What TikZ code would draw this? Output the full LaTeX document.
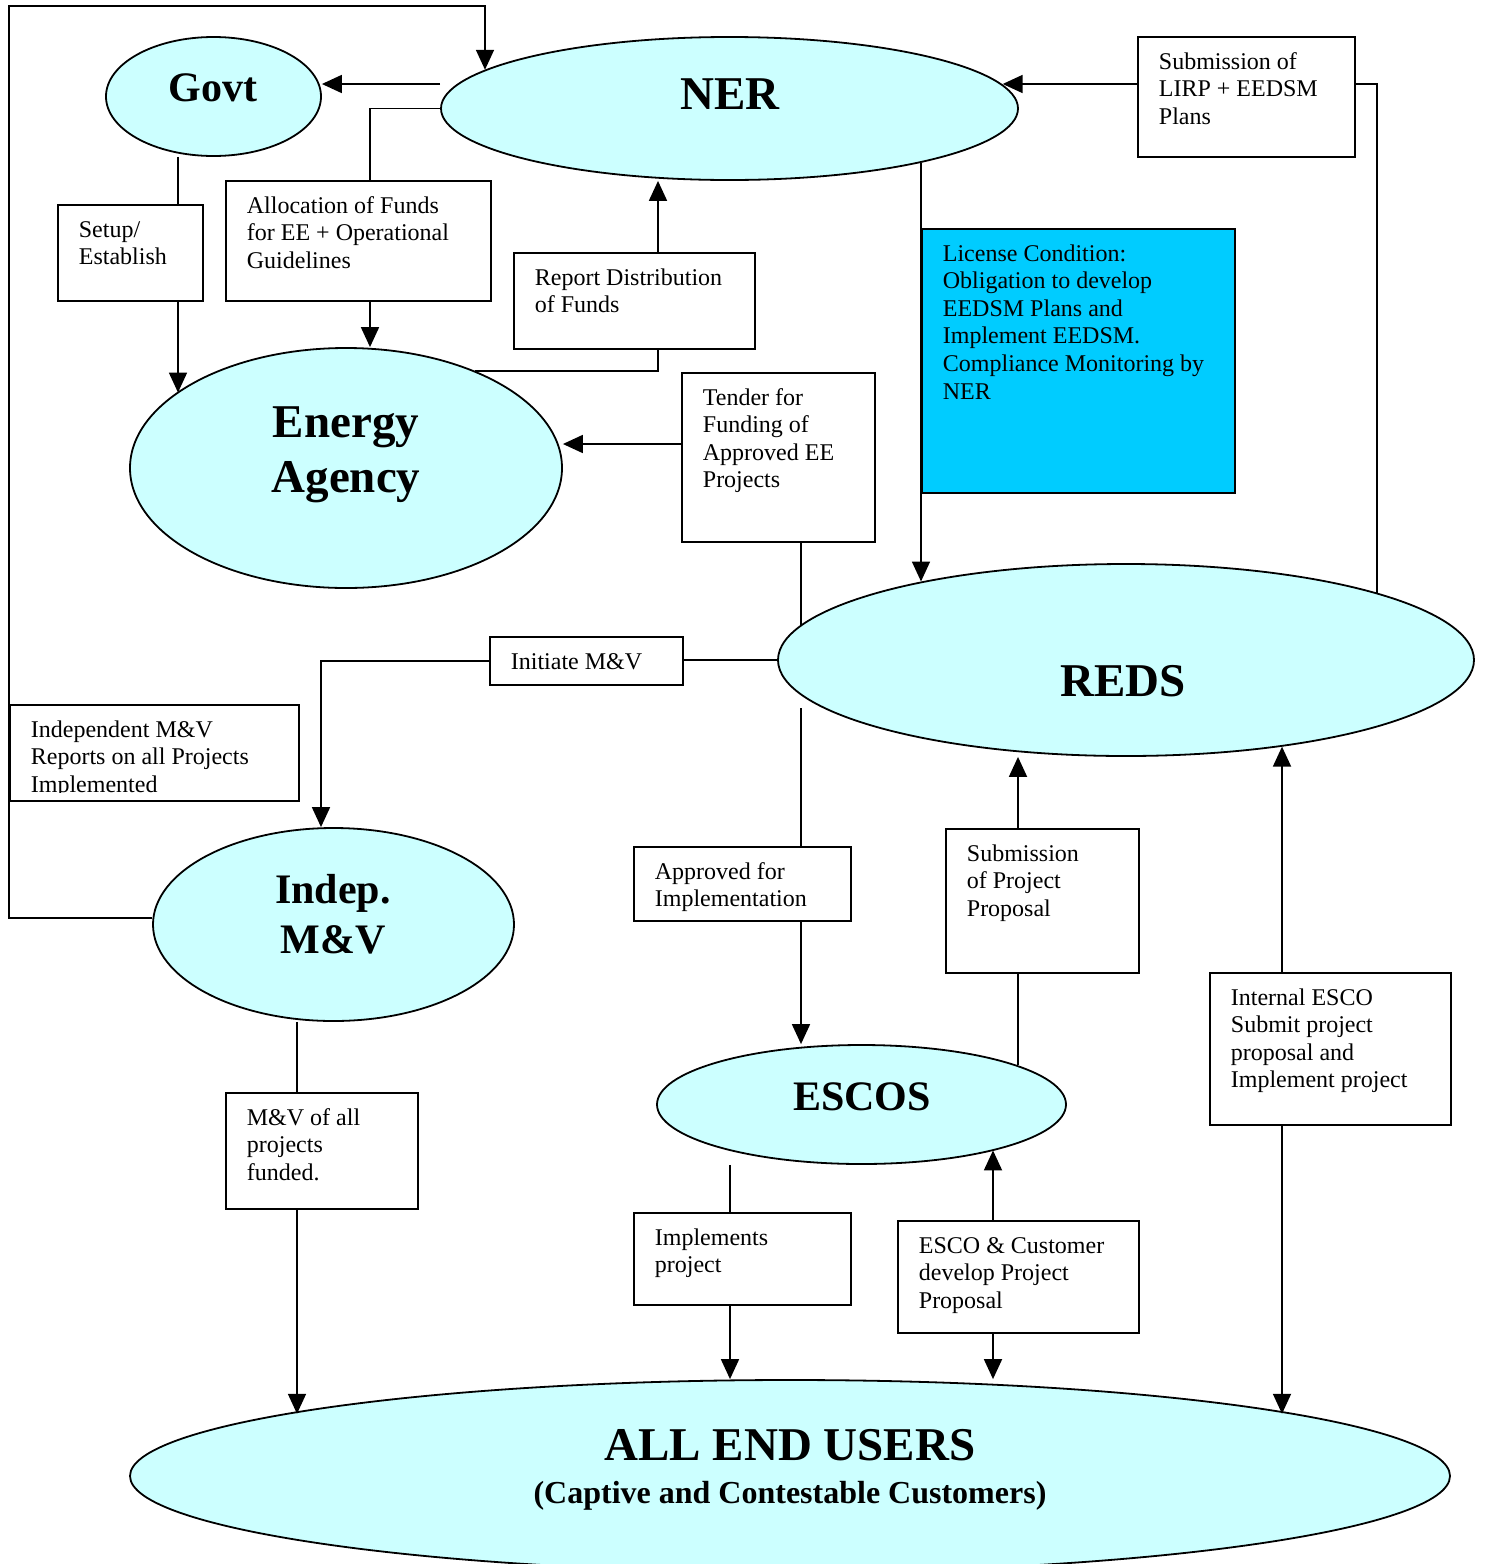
\documentclass[tikz,border=0pt]{standalone}
\usepackage{fontspec}
\setmainfont{Liberation Serif}
\usepackage{tikz}
\usetikzlibrary{arrows.meta,positioning,calc,shapes.geometric}
\usepackage{xcolor}
\definecolor{paleCyan}{HTML}{CCFFFF}
\definecolor{skyBox}{HTML}{00CCFF}
\newcommand{\rows}[1]{\begin{tabular}[t]{@{}l@{}}#1\end{tabular}}
\newcommand{\crows}[1]{\begin{tabular}[t]{@{}c@{}}#1\end{tabular}}

\begin{document}
\begin{tikzpicture}[x=1pt,y=-1pt,>={Triangle[length=20pt,width=18pt]},line width=1.8pt,
  blob/.style={draw,ellipse,fill=paleCyan,inner sep=0},
  card/.style={draw,rectangle,anchor=north west,inner sep=0},
  note/.style={anchor=base west,inner sep=0,font=\fontsize{24}{27.6}\selectfont},
  big/.style={anchor=base,inner sep=0,font=\bfseries\fontsize{47}{55}\selectfont},
  mid/.style={anchor=base,inner sep=0,font=\bfseries\fontsize{42}{50}\selectfont}]
  \useasboundingbox (0,0) rectangle (1486,1564);
  \clip (0,0) rectangle (1486,1564);

  % actors
  \node[blob,minimum width=215pt,minimum height=119pt] (govt) at (213.5,96.5) {};
  \node[blob,minimum width=577pt,minimum height=143pt] (ner) at (729.5,108.5) {};
  \node[blob,minimum width=432pt,minimum height=240pt] (ea) at (346,468) {};
  \node[blob,minimum width=696pt,minimum height=192pt] (reds) at (1126,660) {};
  \node[blob,minimum width=361pt,minimum height=193pt] (mv) at (333.5,924.5) {};
  \node[blob,minimum width=409pt,minimum height=119pt] (escos) at (861.5,1104.5) {};
  \node[blob,minimum width=1320pt,minimum height=192pt] (eu) at (790,1476) {};

  \node[mid] (govtTxt) at (213,101) {Govt};
  \node[big] (nerTxt) at (730,109) {NER};
  \node[big] (eaTxt) at (346,437) {\crows{Energy\\Agency}};
  \node[big] (redsTxt) at (1123,696) {REDS};
  \node[mid] (mvTxt) at (333,903) {\crows{Indep.\\M\&V}};
  \node[mid] (escosTxt) at (862,1110) {ESCOS};
  \node[big] (euTxt) at (790,1460) {ALL END USERS};
  \node[anchor=base,inner sep=0,font=\bfseries\fontsize{32}{38}\selectfont] (euSub) at (790,1503) {(Captive and Contestable Customers)};

  % flow boxes
  \node[card,minimum width=145pt,minimum height=96pt] (setup) at (57,204) {};
  \node[card,minimum width=265pt,minimum height=120pt] (alloc) at (225,180) {};
  \node[card,minimum width=241pt,minimum height=96pt] (report) at (513,252) {};
  \node[card,minimum width=193pt,minimum height=169pt] (tender) at (681,372) {};
  \node[card,minimum width=217pt,minimum height=120pt] (lirp) at (1137,36) {};
  \node[card,fill=skyBox,minimum width=313pt,minimum height=264pt] (licence) at (921,228) {};
  \node[card,minimum width=193pt,minimum height=48pt] (initmv) at (489,636) {};
  \node[card,minimum width=289pt,minimum height=96pt] (mvrep) at (9,704) {};
  \node[card,minimum width=217pt,minimum height=74pt] (approved) at (633,846) {};
  \node[card,minimum width=193pt,minimum height=144pt] (subprop) at (945,828) {};
  \node[card,minimum width=241pt,minimum height=152pt] (internal) at (1209,972) {};
  \node[card,minimum width=192pt,minimum height=116pt] (mvall) at (225,1092) {};
  \node[card,minimum width=217pt,minimum height=92pt] (implements) at (633,1212) {};
  \node[card,minimum width=241pt,minimum height=112pt] (escocust) at (897,1220) {};

  \node[note] (setupTxt) at ($(setup.north west)+(21,33)$) {\rows{Setup/\\Establish}};
  \node[note] (allocTxt) at ($(alloc.north west)+(21,33)$) {\rows{Allocation of Funds\\for EE + Operational\\Guidelines}};
  \node[note] (reportTxt) at ($(report.north west)+(21,33)$) {\rows{Report Distribution\\of Funds}};
  \node[note] (tenderTxt) at ($(tender.north west)+(21,33)$) {\rows{Tender for\\Funding of\\Approved EE\\Projects}};
  \node[note] (lirpTxt) at ($(lirp.north west)+(21,33)$) {\rows{Submission of\\LIRP + EEDSM\\Plans}};
  \node[note] (licenceTxt) at ($(licence.north west)+(21,33)$) {\rows{License Condition:\\Obligation to develop\\EEDSM Plans and\\Implement EEDSM.\\Compliance Monitoring by\\NER}};
  \node[note] (initmvTxt) at ($(initmv.north west)+(21,33)$) {Initiate M\&V};
  \begin{scope}
    \clip (mvrep.north west) rectangle ($(mvrep.south east)+(0,-9)$);
    \node[note] (mvrepTxt) at ($(mvrep.north west)+(21,33)$) {\rows{Independent M\&V\\Reports on all Projects\\Implemented}};
  \end{scope}
  \node[note] (approvedTxt) at ($(approved.north west)+(21,33)$) {\rows{Approved for\\Implementation}};
  \node[note] (subpropTxt) at ($(subprop.north west)+(21,33)$) {\rows{Submission\\of Project\\Proposal}};
  \node[note] (internalTxt) at ($(internal.north west)+(21,33)$) {\rows{Internal ESCO\\Submit project\\proposal and\\Implement project}};
  \node[note] (mvallTxt) at ($(mvall.north west)+(21,33)$) {\rows{M\&V of all\\projects\\funded.}};
  \node[note] (implementsTxt) at ($(implements.north west)+(21,33)$) {\rows{Implements\\project}};
  \node[note] (escocustTxt) at ($(escocust.north west)+(21,33)$) {\rows{ESCO \& Customer\\develop Project\\Proposal}};

  % M&V reports loop back to NER
  \draw[->] (mv.west |- 0,918) -| (9,6) -| (ner.171);
  % NER, Govt and the agency
  \draw[->] (ner.west |- 0,84) -- (govt.east |- 0,84);
  \draw (ner.west) -| (alloc.north -| 370,0);
  \draw[->] (alloc.south -| 370,0) -- (ea.north -| 370,0);
  \draw (govt.south -| 178,0) -- (setup.north -| 178,0);
  \draw[->] (setup.south -| 178,0) -- (ea.156 -| 178,0);
  \draw[->] (report.north -| 658,0) -- (ner.south -| 658,0);
  \draw (report.south -| 658,0) |- (ea.37);
  \draw[->] (tender.west |- 0,444) -- (ea.east |- 0,444);
  \draw (tender.south -| 801,0) -- (reds.174 -| 801,0);
  % licence and plans
  \draw[->] (ner.-16 -| 921,0) -- (reds.159 -| 921,0);
  \draw[->] (lirp.west |- 0,84) -- (ner.5 |- 0,84);
  \draw (lirp.east |- 0,84) -| (reds.15);
  % M&V
  \draw (reds.west) -- (initmv.east |- reds.west);
  \draw[->] (initmv.west) -| (mv.north -| 321,0);
  \draw (mv.south -| 297,0) -- (mvall.north -| 297,0);
  \draw[->] (mvall.south -| 297,0) -- (eu.173 -| 297,0);
  % projects
  \draw ($(reds.186 -| 801,0)+(0,14)$) -- (approved.north -| 801,0);
  \draw[->] (approved.south -| 801,0) -- (escos.north -| 801,0);
  \draw (escos.14 -| 1018,0) -- (subprop.south -| 1018,0);
  \draw[->] (subprop.north -| 1018,0) -- (reds.south -| 1018,0);
  \draw[->] (internal.north -| 1282,0) -- (reds.-29 -| 1282,0);
  \draw[->] (internal.south -| 1282,0) -- (eu.7 -| 1282,0);
  \draw (escos.south -| 730,0) -- (implements.north -| 730,0);
  \draw[->] (implements.south -| 730,0) -- (eu.north -| 730,0);
  \draw[->] (escocust.north -| 993,0) -- (escos.-19 -| 993,0);
  \draw[->] (escocust.south -| 993,0) -- (eu.north -| 993,0);
\end{tikzpicture}
\end{document}
